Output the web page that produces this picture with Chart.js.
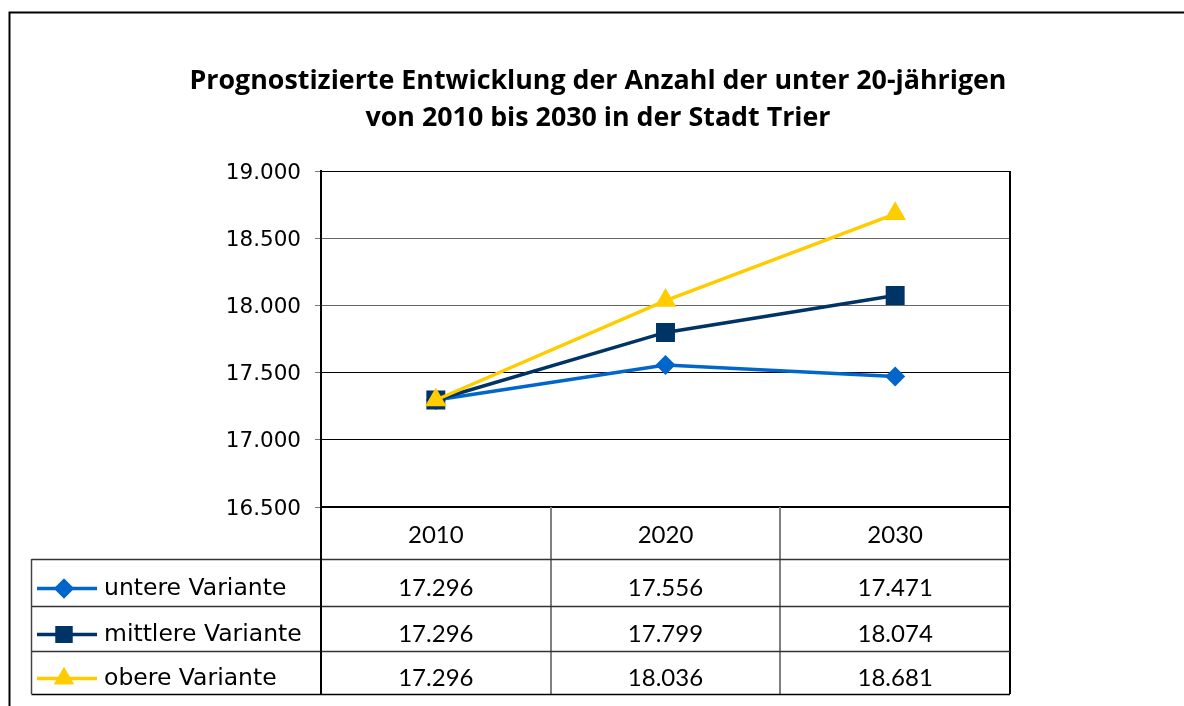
<!DOCTYPE html>
<html>
<head>
<meta charset="utf-8">
<title>Unter 20-Jährige Trier</title>
<script src="https://cdn.jsdelivr.net/npm/chart.js@4/dist/chart.umd.min.js"></script>
<style>
  html, body { margin: 0; padding: 0; background: #fff; }
  #wrap { width: 1184px; height: 706px; }
</style>
</head>
<body>
<div id="wrap"><canvas id="trierChart" width="1184" height="706"></canvas></div>
<script>
// Werte aus der Grafik
const years = ['2010', '2020', '2030'];
const untereVariante = [17296, 17556, 17471];
const mittlereVariante = [17296, 17799, 18074];
const obereVariante = [17296, 18036, 18681];
const seriesNames = ['untere Variante', 'mittlere Variante', 'obere Variante'];
const titleLines = [
    'Prognostizierte Entwicklung der Anzahl der unter 20-jährigen',
    'von 2010 bis 2030 in der Stadt Trier'
];
const yMin = 16500, yMax = 19000, yStep = 500;

function fmt(v) {
    return String(v).replace(/\B(?=(\d{3})+(?!\d))/g, '.');
}

const styles = [
    { color: '#0066CC', point: 'rectRot', radius: 10, legendRadius: 10 },
    { color: '#003366', point: 'rect', radius: 13.4, legendRadius: 12 },
    { color: '#FFCC00', point: 'triangle', radius: 12.5, legendRadius: 11.5 }
];
const seriesValues = [untereVariante, mittlereVariante, obereVariante];

const datasets = seriesValues.map((vals, i) => ({
    label: seriesNames[i],
    data: vals,
    borderColor: styles[i].color,
    backgroundColor: styles[i].color,
    borderWidth: 3.5,
    pointStyle: styles[i].point,
    pointRadius: styles[i].radius,
    pointBorderWidth: 0,
    pointBackgroundColor: styles[i].color,
    tension: 0,
    order: 2 - i
}));

// Rahmen, Titel und Datentabelle unter der Grafik
const tablePlugin = {
    id: 'tablePlugin',
    afterDraw(chart) {
        const ctx = chart.ctx;
        const area = chart.chartArea;
        const xs = chart.scales.x;
        ctx.save();

        // äußerer Rahmen
        ctx.strokeStyle = '#000';
        ctx.lineWidth = 2;
        ctx.beginPath();
        ctx.moveTo(9.5, 706);
        ctx.lineTo(9.5, 12.5);
        ctx.lineTo(1184, 12.5);
        ctx.stroke();

        // Titel
        ctx.fillStyle = '#000';
        ctx.textAlign = 'center';
        ctx.textBaseline = 'middle';
        ctx.font = 'bold 22px "Open Sans"';
        const w = ctx.measureText(titleLines[0]).width;
        const size = 22 * 817 / w;
        ctx.font = 'bold ' + size.toFixed(2) + 'px "Open Sans"';
        ctx.fillText(titleLines[0], 598, 81);
        ctx.fillText(titleLines[1], 598, 118);

        // rechter Rand der Zeichenfläche
        ctx.lineWidth = 2;
        ctx.beginPath();
        ctx.moveTo(area.right, area.top);
        ctx.lineTo(area.right, 694);
        ctx.stroke();

        // Tabelle
        const centers = years.map((_, i) => xs.getPixelForValue(i));
        const inner = [(centers[0] + centers[1]) / 2, (centers[1] + centers[2]) / 2];
        const tableTop = area.bottom + 52;
        const rowLines = [tableTop, tableTop + 47, tableTop + 92, tableTop + 135];
        const tableLeft = 31.5;

        ctx.lineWidth = 2;
        ctx.strokeStyle = '#808080';
        inner.forEach(x => {
            ctx.beginPath();
            ctx.moveTo(Math.round(x), area.bottom);
            ctx.lineTo(Math.round(x), rowLines[3]);
            ctx.stroke();
        });

        ctx.lineWidth = 1.5;
        rowLines.forEach((y, k) => {
            ctx.strokeStyle = k === 3 ? '#000' : '#333';
            ctx.beginPath();
            ctx.moveTo(tableLeft, y + 0.5);
            ctx.lineTo(area.right, y + 0.5);
            ctx.stroke();
        });
        ctx.strokeStyle = '#444';
        ctx.beginPath();
        ctx.moveTo(tableLeft, rowLines[0]);
        ctx.lineTo(tableLeft, rowLines[3]);
        ctx.stroke();
        ctx.strokeStyle = '#000';
        ctx.lineWidth = 2;
        ctx.beginPath();
        ctx.moveTo(area.left, area.bottom);
        ctx.lineTo(area.left, rowLines[3]);
        ctx.stroke();

        for (let r = 0; r < 3; r++) {
            const yc = (rowLines[r] + rowLines[r + 1]) / 2 + 6;
            const st = styles[r];
            // Legendensymbol
            ctx.strokeStyle = st.color;
            ctx.lineWidth = 3.5;
            ctx.beginPath();
            ctx.moveTo(37, yc);
            ctx.lineTo(97, yc);
            ctx.stroke();
            ctx.fillStyle = st.color;
            Chart.helpers.drawPoint(ctx, {
                pointStyle: st.point,
                radius: st.legendRadius,
                rotation: 0,
                borderWidth: 0
            }, 64, yc);
            ctx.fill();

            ctx.fillStyle = '#000';
            ctx.textAlign = 'left';
            ctx.textBaseline = 'middle';
            ctx.font = '23.5px "DejaVu Sans"';
            ctx.fillText(seriesNames[r], 104, yc);

            ctx.textAlign = 'center';
            ctx.font = '24px Lato';
            seriesValues[r].forEach((v, c) => {
                ctx.fillText(fmt(v), centers[c], yc);
            });
        }
        ctx.restore();
    }
};

new Chart(document.getElementById('trierChart'), {
    type: 'line',
    data: { labels: years, datasets: datasets },
    options: {
        responsive: false,
        animation: false,
        devicePixelRatio: 1,
        layout: { padding: { top: 171, right: 174, bottom: 147, left: 0 } },
        plugins: {
            legend: { display: false },
            title: { display: false },
            tooltip: { enabled: false }
        },
        scales: {
            x: {
                offset: true,
                grid: { display: false, drawTicks: false },
                border: { display: true, color: '#000', width: 2 },
                ticks: {
                    color: '#000',
                    font: { family: 'Lato', size: 24 },
                    padding: 14
                },
                afterFit(scale) { scale.height = 52; }
            },
            y: {
                min: yMin,
                max: yMax,
                border: { display: true, color: '#000', width: 2 },
                grid: {
                    color(c) {
                        const v = c.tick.value;
                        return (v === 19000 || v === 17500 || v === 17000) ? '#000' : '#666';
                    },
                    tickColor: '#777',
                    tickLength: 6,
                    lineWidth: 1
                },
                ticks: {
                    stepSize: yStep,
                    color: '#000',
                    padding: 14,
                    labelOffset: 2,
                    font: { family: 'DejaVu Sans', size: 21.5 },
                    callback: v => fmt(v)
                },
                afterFit(scale) { scale.width = 321; }
            }
        }
    },
    plugins: [tablePlugin]
});
</script>
</body>
</html>
